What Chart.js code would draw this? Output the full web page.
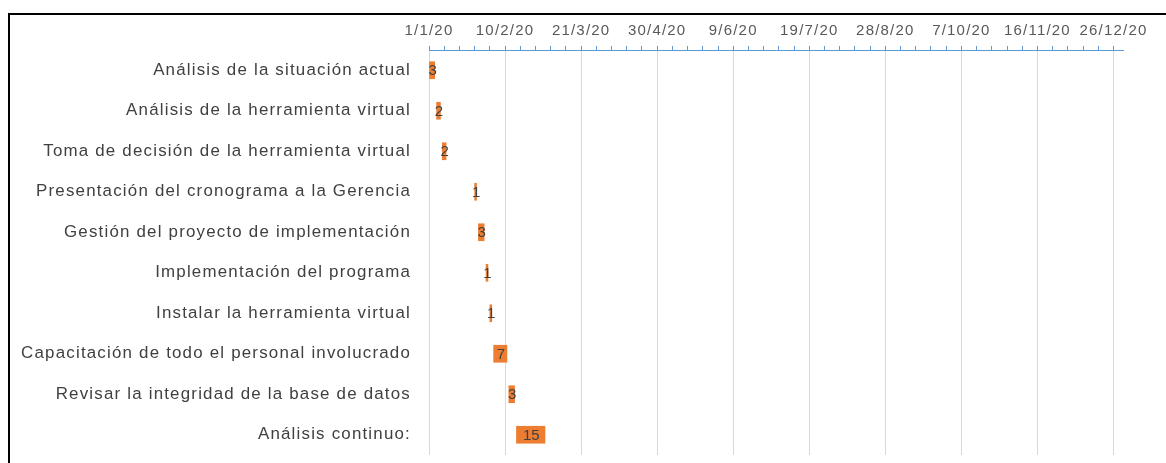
<!DOCTYPE html>
<html>
<head>
<meta charset="utf-8">
<script src="https://cdn.jsdelivr.net/npm/chart.js@4/dist/chart.umd.min.js"></script>
<style>
  html, body { margin: 0; padding: 0; background: #fff; }
  #frame {
    position: absolute; left: 8px; top: 13px;
    width: 1158px; height: 450px;
    box-sizing: border-box;
    border-top: 2px solid #000; border-left: 2px solid #000;
  }
  #frame canvas { display: block; }
</style>
</head>
<body>
<div id="frame"><canvas id="gantt" width="1156" height="448"></canvas></div>
<script>
const tasks = [
    'Análisis de la situación actual',
    'Análisis de la herramienta virtual',
    'Toma de decisión de la herramienta virtual',
    'Presentación del cronograma a la Gerencia',
    'Gestión del proyecto de implementación',
    'Implementación del programa',
    'Instalar la herramienta virtual',
    'Capacitación de todo el personal involucrado',
    'Revisar la integridad de la base de datos',
    'Análisis continuo:'
];
const startDates = ['2020-01-01', '2020-01-05', '2020-01-08', '2020-01-25', '2020-01-27',
                    '2020-01-31', '2020-02-02', '2020-02-04', '2020-02-12', '2020-02-16'];
const durations = [3, 2, 2, 1, 3, 1, 1, 7, 3, 15];
const tickLabels = ['1/1/20', '10/2/20', '21/3/20', '30/4/20', '9/6/20',
                    '19/7/20', '28/8/20', '7/10/20', '16/11/20', '26/12/20'];

const DAY = 86400000;
const origin = Date.UTC(2020, 0, 1);

function dayOffset(iso) {
    const [y, m, d] = iso.split('-').map(Number);
    return (Date.UTC(y, m - 1, d) - origin) / DAY;
}

const bars = startDates.map((s, i) => {
    const start = dayOffset(s);
    return [start, start + durations[i]];
});

// Excel-style wide text
const spacing = {
    id: 'spacing',
    beforeUpdate(chart) { chart.ctx.letterSpacing = '1.2px'; },
    beforeDraw(chart) { chart.ctx.letterSpacing = '1.2px'; }
};

// duration printed in the middle of each bar
const barLabels = {
    id: 'barLabels',
    afterDatasetsDraw(chart) {
        const ctx = chart.ctx;
        const meta = chart.getDatasetMeta(0);
        ctx.save();
        ctx.letterSpacing = '0px';
        ctx.font = '15px "Liberation Sans", Arial, sans-serif';
        ctx.fillStyle = '#404040';
        ctx.textAlign = 'center';
        ctx.textBaseline = 'middle';
        meta.data.forEach((bar, i) => {
            ctx.fillText(String(durations[i]), (bar.x + bar.base) / 2 + 0.5, bar.y + 1);
        });
        ctx.restore();
    }
};

new Chart(document.getElementById('gantt'), {
    type: 'bar',
    data: {
        labels: tasks,
        datasets: [{
            data: bars,
            backgroundColor: '#ED7D31',
            borderWidth: 0,
            barThickness: 17,
            borderSkipped: false
        }]
    },
    options: {
        indexAxis: 'y',
        responsive: false,
        animation: false,
        layout: { padding: { top: 0, right: 43, bottom: 8, left: 0 } },
        plugins: {
            legend: { display: false },
            tooltip: { enabled: false }
        },
        scales: {
            x: {
                type: 'linear',
                position: 'top',
                min: 0,
                max: 365,
                afterFit(scale) { scale.height = 35; },
                border: { display: true, color: '#5B9BD5', width: 1 },
                grid: {
                    color: c => (c.tick && c.tick.value % 40 === 0) ? '#D9D9D9' : 'rgba(0,0,0,0)',
                    tickColor: '#5B9BD5',
                    tickLength: 4,
                    drawTicks: true
                },
                ticks: {
                    stepSize: 8,
                    includeBounds: false,
                    autoSkip: false,
                    maxRotation: 0,
                    padding: 6,
                    color: '#595959',
                    font: { family: '"Liberation Sans", Arial, sans-serif', size: 15 },
                    callback: v => (v % 40 === 0 ? tickLabels[v / 40] : '')
                }
            },
            y: {
                afterFit(scale) {
                    scale.width = 419;
                    scale.paddingTop = 0;
                    scale.paddingBottom = 0;
                },
                border: { display: false },
                grid: { display: false, drawTicks: false },
                ticks: {
                    padding: 18,
                    autoSkip: false,
                    color: '#404040',
                    font: { family: '"Liberation Sans", Arial, sans-serif', size: 16.9 }
                }
            }
        }
    },
    plugins: [spacing, barLabels]
});
</script>
</body>
</html>
